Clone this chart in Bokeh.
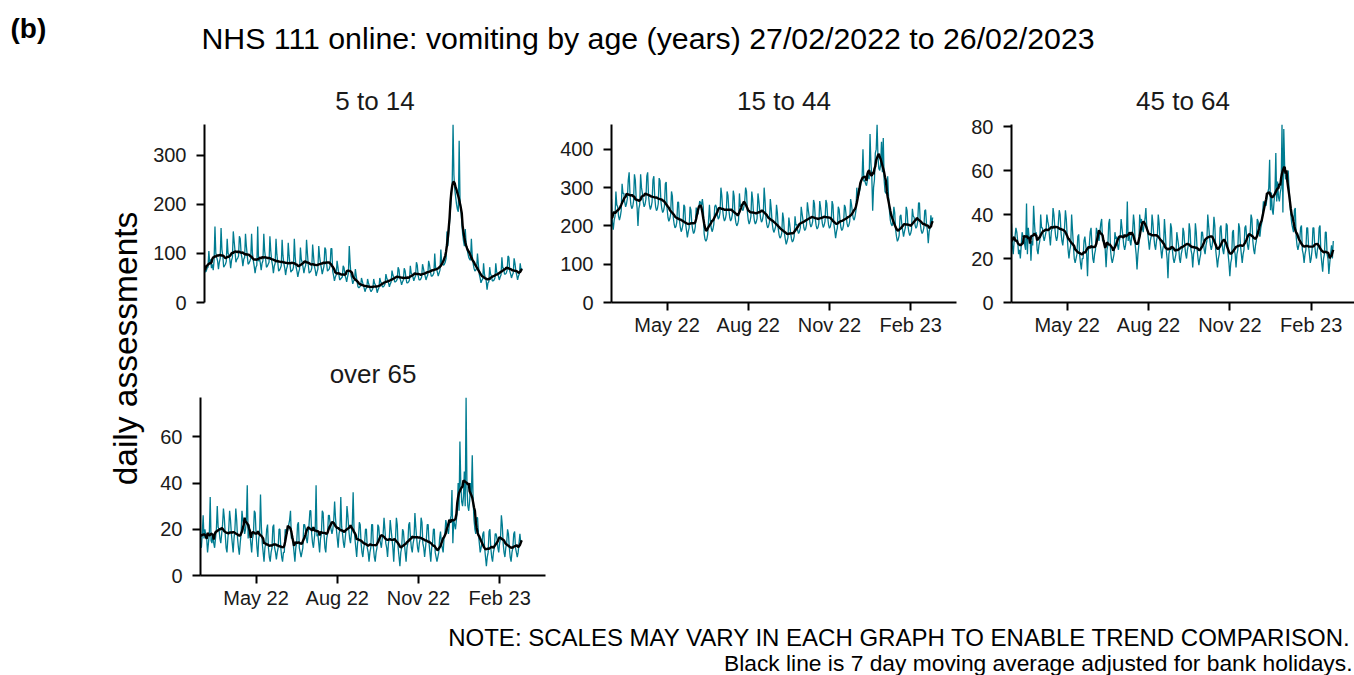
import numpy as np
import pandas as pd
from bokeh.plotting import figure
from bokeh.layouts import column, row
from bokeh.models import Range1d, SingleIntervalTicker, FixedTicker, DatetimeTickFormatter, Label, ColumnDataSource
from bokeh.embed import file_html
from bokeh.resources import INLINE

# ---------------- data ----------------
START_DATE = "2022-02-27"
AXIS_END = ["2023-03-25", "2023-03-25", "2023-03-22", "2023-03-25"]
TICK_DATES = ["2022-05-01", "2022-08-01", "2022-11-01", "2023-02-01"]
TICK_LABELS = ["May 22", "Aug 22", "Nov 22", "Feb 23"]
PANEL_TITLES = ["5 to 14", "15 to 44", "45 to 64", "over 65"]
Y_TICK_STEP = [100, 100, 20, 20]
MAIN_TITLE = "NHS 111 online: vomiting by age (years) 27/02/2022 to 26/02/2023"
Y_LABEL = "daily assessments"
NOTE_1 = "NOTE: SCALES MAY VARY IN EACH GRAPH TO ENABLE TREND COMPARISON."
NOTE_2 = "Black line is 7 day moving average adjusted for bank holidays."

AGE_5_14 = [
    72, 62, 64, 70, 72, 105, 80,
    88, 70, 78, 66, 86, 155, 100,
    92, 85, 68, 82, 90, 152, 108,
    95, 72, 75, 78, 84, 130, 100,
    98, 88, 70, 86, 92, 145, 125,
    105, 82, 88, 90, 95, 135, 130,
    100, 90, 74, 88, 92, 140, 115,
    96, 78, 80, 84, 90, 140, 100,
    85, 74, 60, 72, 76, 155, 84,
    92, 80, 66, 80, 85, 140, 105,
    90, 72, 74, 78, 82, 135, 105,
    86, 76, 60, 74, 80, 130, 98,
    82, 64, 66, 70, 75, 128, 95,
    80, 70, 56, 68, 74, 122, 96,
    78, 62, 65, 66, 72, 130, 93,
    72, 64, 52, 62, 68, 112, 88,
    82, 72, 60, 70, 76, 128, 101,
    76, 60, 62, 64, 70, 118, 95,
    74, 66, 54, 62, 68, 115, 94,
    80, 70, 58, 66, 74, 112, 108,
    80, 64, 66, 68, 75, 110, 110,
    64, 55, 44, 52, 56, 85, 72,
    58, 46, 48, 50, 52, 75, 71,
    56, 50, 42, 52, 60, 115, 80,
    55, 48, 38, 44, 46, 68, 54,
    42, 32, 30, 32, 34, 50, 43,
    36, 30, 22, 28, 30, 48, 40,
    34, 26, 22, 25, 28, 48, 39,
    36, 30, 20, 26, 30, 50, 42,
    40, 32, 32, 34, 38, 58, 50,
    45, 40, 32, 38, 42, 65, 56,
    52, 42, 42, 44, 48, 72, 67,
    50, 44, 36, 42, 46, 70, 65,
    50, 40, 40, 42, 46, 75, 60,
    58, 52, 44, 50, 54, 82, 76,
    55, 46, 46, 48, 52, 78, 70,
    60, 54, 46, 52, 56, 85, 77,
    64, 54, 54, 56, 60, 100, 70,
    70, 62, 54, 60, 66, 108, 80,
    80, 76, 78, 82, 90, 145, 115,
    140, 165, 190, 215, 240, 363, 260,
    230, 215, 200, 190, 185, 330, 210,
    190, 165, 140, 125, 115, 150, 120,
    110, 100, 92, 88, 86, 130, 95,
    80, 70, 64, 66, 70, 100, 78,
    58, 50, 40, 45, 48, 80, 58,
    50, 44, 26, 40, 42, 72, 58,
    54, 44, 44, 46, 50, 80, 62,
    60, 54, 46, 52, 56, 92, 70,
    70, 58, 58, 60, 66, 95, 92,
    64, 58, 50, 56, 60, 90, 80,
    64, 56, 46, 54, 58, 80, 66,
    70,
]

AGE_15_44 = [
    270, 210, 190, 215, 225, 290, 255,
    250, 225, 215, 225, 240, 310, 285,
    285, 262, 250, 258, 272, 320, 340,
    280, 255, 245, 250, 265, 335, 320,
    270, 248, 200, 245, 256, 335, 300,
    285, 262, 250, 256, 270, 330, 340,
    278, 255, 243, 250, 263, 320, 330,
    275, 250, 240, 245, 258, 325, 318,
    265, 245, 235, 240, 252, 310, 315,
    245, 222, 212, 218, 230, 290, 278,
    222, 205, 195, 198, 210, 262, 262,
    215, 196, 185, 192, 205, 255, 250,
    205, 188, 170, 185, 195, 250, 242,
    207, 190, 180, 185, 198, 248, 240,
    230, 250, 265, 260, 255, 270, 250,
    180, 165, 160, 165, 178, 215, 255,
    215, 195, 185, 192, 205, 250, 255,
    248, 228, 218, 222, 235, 300, 280,
    242, 222, 213, 218, 230, 290, 280,
    242, 222, 213, 218, 230, 292, 278,
    225, 208, 200, 205, 215, 285, 250,
    255, 245, 240, 250, 265, 300, 290,
    236, 215, 205, 212, 225, 290, 270,
    232, 213, 205, 210, 220, 285, 265,
    240, 220, 210, 215, 228, 300, 267,
    222, 204, 195, 200, 210, 270, 246,
    210, 192, 183, 190, 198, 255, 235,
    192, 176, 168, 172, 182, 235, 219,
    180, 165, 152, 160, 170, 222, 204,
    182, 166, 158, 162, 172, 225, 202,
    205, 188, 180, 185, 195, 250, 232,
    215, 196, 188, 192, 203, 262, 242,
    225, 206, 197, 202, 212, 268, 258,
    218, 200, 192, 196, 207, 265, 248,
    225, 206, 196, 202, 212, 268, 259,
    222, 203, 194, 198, 210, 265, 255,
    206, 188, 168, 185, 195, 250, 243,
    215, 196, 188, 192, 203, 255, 249,
    225, 206, 197, 202, 212, 270, 256,
    235, 220, 215, 225, 240, 300, 273,
    280, 290, 300, 315, 325, 400, 316,
    320, 310, 305, 320, 335, 322, 440,
    365, 330, 240, 300, 320, 390, 400,
    465, 380, 350, 345, 360, 420, 340,
    430, 320, 290, 285, 295, 330, 276,
    240, 215, 205, 200, 210, 250, 234,
    190, 172, 160, 165, 175, 225, 229,
    205, 188, 172, 185, 195, 250, 240,
    200, 184, 175, 180, 190, 245, 226,
    222, 203, 194, 198, 210, 260, 260,
    205, 188, 180, 185, 195, 240, 242,
    205, 188, 155, 185, 195, 228, 205,
    222,
]

AGE_45_64 = [
    36, 26, 22, 28, 30, 34, 32,
    28, 22, 24, 20, 26, 32, 30,
    30, 26, 24, 45, 22, 34, 29,
    30, 19, 28, 26, 44, 36, 30,
    32, 24, 22, 26, 28, 40, 34,
    34, 30, 28, 30, 32, 40, 37,
    35, 30, 26, 32, 34, 43, 40,
    34, 30, 28, 30, 36, 42, 40,
    32, 28, 26, 30, 34, 42, 38,
    30, 24, 20, 24, 26, 40, 33,
    26, 20, 18, 20, 22, 30, 31,
    22, 18, 15, 20, 20, 28, 30,
    26, 22, 12, 24, 26, 32, 34,
    26, 20, 18, 22, 24, 34, 32,
    30, 28, 32, 36, 38, 28, 28,
    28, 24, 16, 24, 26, 36, 38,
    24, 20, 18, 20, 22, 32, 29,
    30, 26, 24, 28, 30, 38, 34,
    30, 26, 24, 26, 30, 46, 28,
    32, 28, 26, 30, 32, 40, 36,
    26, 22, 15, 22, 26, 40, 36,
    38, 34, 32, 36, 38, 43, 35,
    32, 28, 24, 28, 30, 40, 36,
    30, 26, 24, 28, 30, 40, 36,
    28, 24, 20, 24, 26, 38, 32,
    24, 20, 11, 22, 24, 36, 34,
    24, 20, 18, 20, 22, 32, 29,
    26, 20, 18, 22, 24, 34, 32,
    26, 22, 20, 24, 26, 36, 33,
    24, 22, 16, 22, 24, 36, 32,
    24, 20, 17, 20, 22, 32, 32,
    28, 24, 22, 26, 28, 40, 35,
    30, 26, 24, 26, 30, 39, 35,
    24, 20, 16, 20, 22, 34, 35,
    28, 24, 22, 26, 28, 36, 35,
    22, 18, 12, 18, 20, 32, 33,
    24, 22, 16, 22, 24, 36, 34,
    26, 22, 18, 22, 24, 34, 35,
    30, 26, 24, 28, 32, 40, 38,
    28, 24, 22, 26, 28, 38, 37,
    32, 30, 34, 36, 40, 46, 43,
    46, 44, 48, 50, 52, 65, 42,
    50, 42, 40, 46, 50, 68, 46,
    55, 48, 46, 50, 52, 81, 41,
    79, 62, 56, 58, 55, 60, 51,
    45, 40, 36, 34, 32, 42, 43,
    30, 26, 24, 26, 28, 34, 35,
    24, 22, 18, 22, 24, 34, 34,
    26, 22, 18, 20, 24, 34, 34,
    26, 22, 20, 24, 26, 34, 35,
    22, 18, 14, 20, 22, 32, 32,
    22, 20, 13, 18, 22, 26, 20,
    28,
]

AGE_OVER_65 = [
    14, 12, 18, 26, 16, 20, 17,
    16, 10, 14, 18, 34, 15, 14,
    18, 14, 12, 16, 20, 30, 21,
    20, 16, 14, 18, 22, 29, 25,
    18, 12, 10, 16, 20, 28, 24,
    18, 14, 10, 16, 20, 29, 24,
    16, 12, 9, 14, 18, 28, 24,
    22, 18, 20, 24, 39, 16, 22,
    18, 14, 10, 16, 18, 28, 27,
    18, 12, 8, 16, 18, 35, 21,
    14, 10, 6, 12, 14, 20, 22,
    12, 8, 6, 10, 12, 21, 22,
    12, 10, 7, 10, 12, 20, 20,
    12, 8, 6, 10, 10, 20, 19,
    18, 20, 22, 24, 28, 16, 18,
    14, 10, 6, 12, 14, 22, 23,
    12, 10, 8, 10, 12, 22, 22,
    20, 16, 14, 18, 22, 28, 28,
    18, 14, 12, 16, 20, 39, 17,
    18, 14, 10, 16, 18, 28, 27,
    18, 12, 10, 16, 18, 26, 26,
    22, 20, 18, 20, 24, 32, 25,
    20, 16, 12, 18, 20, 34, 21,
    18, 14, 12, 16, 20, 30, 26,
    20, 16, 14, 18, 22, 36, 20,
    16, 12, 8, 14, 16, 23, 22,
    14, 10, 8, 12, 14, 20, 20,
    12, 10, 6, 10, 12, 22, 22,
    12, 8, 6, 10, 12, 22, 21,
    16, 14, 12, 16, 18, 25, 20,
    14, 12, 8, 14, 16, 24, 20,
    16, 12, 6, 14, 16, 25, 22,
    12, 8, 4, 10, 12, 20, 19,
    14, 10, 6, 12, 14, 22, 23,
    16, 12, 10, 14, 16, 27, 21,
    16, 12, 10, 14, 16, 25, 23,
    14, 12, 8, 12, 16, 22, 22,
    14, 10, 6, 12, 14, 20, 20,
    10, 8, 6, 8, 10, 16, 19,
    14, 12, 10, 16, 18, 24, 22,
    20, 18, 22, 24, 26, 37, 14,
    24, 22, 20, 24, 28, 40, 28,
    58, 40, 32, 30, 34, 45, 30,
    77, 38, 30, 28, 32, 40, 35,
    52, 32, 24, 20, 18, 25, 25,
    18, 14, 10, 12, 14, 18, 19,
    12, 8, 4, 8, 10, 19, 20,
    12, 8, 6, 10, 12, 18, 18,
    16, 12, 10, 14, 16, 26, 22,
    14, 10, 8, 12, 14, 20, 18,
    12, 8, 6, 10, 12, 18, 19,
    12, 10, 8, 10, 14, 18, 14,
    15,
]

SERIES = [AGE_5_14, AGE_15_44, AGE_45_64, AGE_OVER_65]

# ---------------- style ----------------
TEAL = "#007C91"
FONT = "Liberation Sans"


def blank(w, h):
    f = figure(width=w, height=h, x_range=Range1d(0, w), y_range=Range1d(0, h),
               output_backend="svg", toolbar_location=None, min_border=0, title=None)
    f.axis.visible = False
    f.grid.visible = False
    f.outline_line_color = None
    return f


def panel(i, w, h, mbl, mbr, mbt, mbb, show_x):
    vals = pd.Series(SERIES[i], dtype=float)
    dates = pd.date_range(START_DATE, periods=len(vals), freq="D")
    ma = vals.rolling(7, center=True, min_periods=1).mean()
    src = ColumnDataSource(dict(date=dates, v=vals.values, ma=ma.values))
    p = figure(width=w, height=h, x_axis_type="datetime",
               x_range=Range1d(pd.Timestamp(START_DATE), pd.Timestamp(AXIS_END[i])),
               y_range=Range1d(0, float(vals.max())),
               output_backend="svg", toolbar_location=None,
               min_border_left=mbl, min_border_right=mbr,
               min_border_top=mbt, min_border_bottom=mbb)
    p.title.text = PANEL_TITLES[i]
    p.title.align = "center"
    p.title.text_font = FONT
    p.title.text_font_size = "26px"
    p.title.text_font_style = "normal"
    p.title.text_color = "#1a1a1a"
    p.title.standoff = 18
    p.line("date", "v", source=src, line_color=TEAL, line_width=1.3)
    p.line("date", "ma", source=src, line_color="black", line_width=2.4)
    p.grid.visible = False
    p.outline_line_color = None
    for ax in (p.xaxis[0], p.yaxis[0]):
        ax.axis_line_width = 2
        ax.axis_line_color = "black"
        ax.major_tick_line_width = 2
        ax.major_tick_line_color = "black"
        ax.major_tick_out = 8
        ax.major_tick_in = 0
        ax.minor_tick_line_color = None
        ax.major_label_text_font = FONT
        ax.major_label_text_font_size = "20px"
        ax.major_label_text_color = "#1a1a1a"
    p.yaxis[0].ticker = SingleIntervalTicker(interval=Y_TICK_STEP[i], num_minor_ticks=0)
    p.yaxis[0].major_label_standoff = 10
    tick_ms = [pd.Timestamp(d).value // 10**6 for d in TICK_DATES]
    p.xaxis[0].ticker = FixedTicker(ticks=tick_ms)
    p.xaxis[0].formatter = DatetimeTickFormatter(days="%b %y", months="%b %y", years="%b %y")
    p.xaxis[0].major_label_overrides = {t: lab for t, lab in zip(tick_ms, TICK_LABELS)}
    p.xaxis[0].major_label_standoff = 3
    if not show_x:
        p.xaxis.visible = False
    return p


# header (page y 0-70)
header = blank(1354, 70)
header.add_layout(Label(x=10, y=42, text="(b)", text_font=FONT, text_font_size="28px",
                        text_font_style="bold", text_color="black", text_baseline="middle"))
header.add_layout(Label(x=647.5, y=32, text=MAIN_TITLE, text_font=FONT, text_font_size="30.3px",
                        text_color="black", text_align="center", text_baseline="middle"))

# y label column (page y 70-611)
ylab = blank(150, 541)
ylab.add_layout(Label(x=125, y=263, text=Y_LABEL, angle=np.pi / 2, text_font=FONT,
                      text_font_size="33.5px", text_color="black",
                      text_align="center", text_baseline="middle"))

p1 = panel(0, 402, 275, 50, 7, 54, 43, False)
p2 = panel(1, 412, 275, 59, 8, 54, 43, True)
p3 = panel(2, 390, 275, 47, 0, 54, 43, True)
p4 = panel(3, 402, 266, 50, 7, 52, 36, True)

# note (page y 611-675)
note = blank(1354, 64)
note.add_layout(Label(x=1351, y=38, text=NOTE_1, text_font=FONT, text_font_size="24px",
                      text_color="black", text_align="right", text_baseline="middle"))
note.add_layout(Label(x=1352, y=13, text=NOTE_2, text_font=FONT, text_font_size="22.8px",
                      text_color="black", text_align="right", text_baseline="middle"))

layout = column(header, row(ylab, column(row(p1, p2, p3), row(p4))), note)

open("out.html", "w").write(file_html(layout, INLINE))
